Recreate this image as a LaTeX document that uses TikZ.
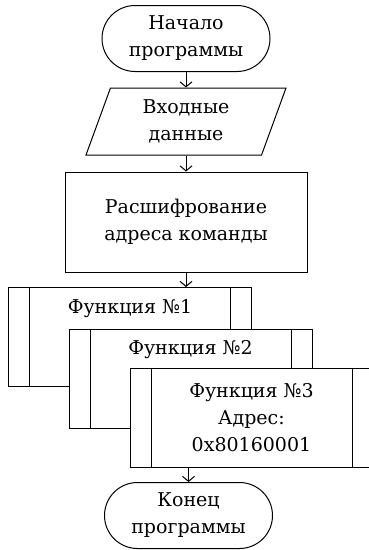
\documentclass[tikz,border=0pt]{standalone}
\usepackage{fontspec}
\setmainfont{DejaVu Serif}
\usetikzlibrary{shapes.geometric,arrows.meta}

\tikzset{
  term/.style={draw,rounded corners=33pt,minimum width=168pt,minimum height=66pt,align=center},
  inout/.style={draw,trapezium,trapezium left angle=64,trapezium right angle=116,
    trapezium stretches body,minimum width=200pt,minimum height=67pt,align=center},
  proc/.style={draw,minimum width=242pt,minimum height=100pt,align=center},
  subproc/.style={draw,fill=white,minimum width=243pt,minimum height=99pt,align=center,
    path picture={
      \draw ([xshift=21pt]path picture bounding box.north west) -- ([xshift=21pt]path picture bounding box.south west);
      \draw ([xshift=-21pt]path picture bounding box.north east) -- ([xshift=-21pt]path picture bounding box.south east);
    }}
}

\begin{document}
\begin{tikzpicture}
  [x=1pt,y=-1pt,line width=1pt,>={Straight Barb[length=5pt,width=12pt]},
   every node/.style={font=\fontsize{19}{27}\selectfont}]
  \useasboundingbox (0,0) rectangle (368,550);

  \node[term] (start) at (186,38.5) {Начало\\программы};
  \node[inout] (in) at (186,121.5) {Входные\\данные};
  \node[proc] (decode) at (186,222) {Расшифрование\\адреса команды};
  \node[subproc] (f1) at (130,337) {Функция №1\\ \strut\\ \strut};
  \node[subproc] (f2) at (190.5,378.5) {Функция №2\\ \strut\\ \strut};
  \node[subproc] (f3) at (251.5,417.5) {Функция №3\\Адрес:\\0x80160001};
  \node[term] (stop) at (188.5,515.5) {Конец\\программы};

  \foreach \from/\to in {start/in,in/decode,decode/f1}
    \draw[->] (\from.south) -- (\from.south |- \to.north);
  \draw[->] (stop.north |- f3.south) -- (stop.north);

\end{tikzpicture}
\end{document}
